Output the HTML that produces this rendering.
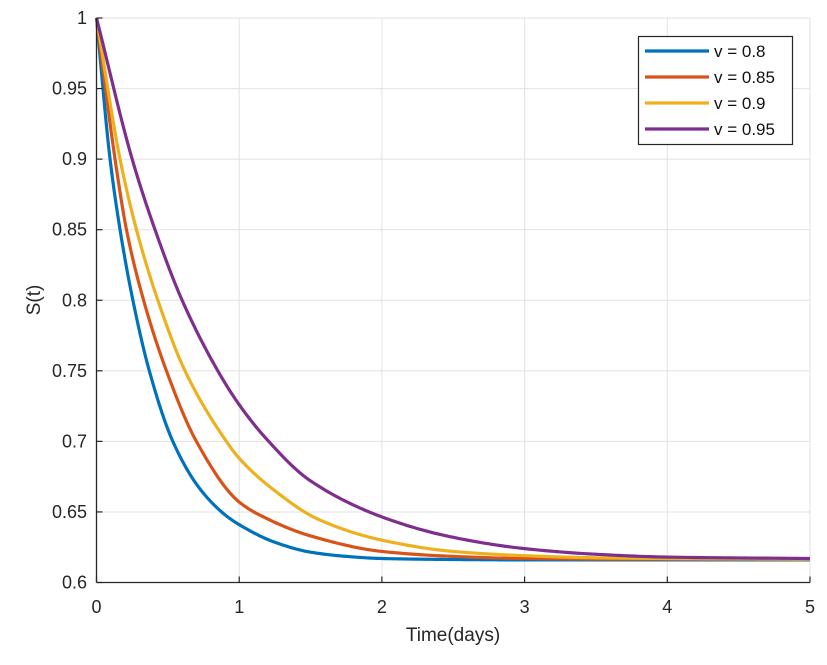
<!DOCTYPE html>
<html><head><meta charset="utf-8"><style>
body{margin:0;background:#fff}
svg{display:block;font-family:"Liberation Sans",Arial,sans-serif}
</style></head><body>
<svg id="chart" width="827" height="665" viewBox="0 0 827 665"></svg>
<script>
const xTicks=[0,1,2,3,4,5];
const yTicks=[0.6,0.65,0.7,0.75,0.8,0.85,0.9,0.95,1];
const yTickLabels=["0.6","0.65","0.7","0.75","0.8","0.85","0.9","0.95","1"];
const seriesNames=["v = 0.8","v = 0.85","v = 0.9","v = 0.95"];
const tBlue=[0,0.095,0.165,0.255,0.37,0.535,0.72,0.9,1,1.25,1.5,1.75,2,2.5,3,4,5];
const vBlue=[1,0.9,0.85,0.8,0.75,0.7,0.667,0.648,0.641,0.6285,0.6215,0.6185,0.617,0.6163,0.616,0.616,0.616];
const tRed=[0,0.13,0.21,0.33,0.49,0.7,1,1.2,1.5,2,2.5,3,4,5];
const vRed=[1,0.9,0.85,0.8,0.75,0.7,0.657,0.645,0.633,0.622,0.6185,0.617,0.6165,0.6165];
const tYellow=[0,0.165,0.28,0.43,0.62,0.91,1,1.25,1.55,2,2.5,3,3.5,4,5];
const vYellow=[1,0.9,0.85,0.8,0.75,0.7,0.688,0.665,0.645,0.63,0.622,0.619,0.6175,0.617,0.6165];
const tPurple=[0,0.25,0.41,0.6,0.85,1,1.18,1.5,2.04,2.5,3,3.5,4,5];
const vPurple=[1,0.9,0.85,0.8,0.75,0.726,0.703,0.672,0.645,0.632,0.624,0.62,0.618,0.617];
const colors=["#0072BD","#D95319","#EDB120","#7E2F8E"];

const svg=document.getElementById('chart');
const NS="http://www.w3.org/2000/svg";
const L=96.5,R=810,T=18,B=582.5;
const xs=t=>L+(t-0)/(5-0)*(R-L);
const ys=v=>B-(v-0.6)/(1-0.6)*(B-T);
function mk(tag,attrs,parent){const e=document.createElementNS(NS,tag);for(const k in attrs)e.setAttribute(k,attrs[k]);(parent||svg).appendChild(e);return e;}

const grid=mk('g',{});


xTicks.forEach(t=>{const l=mk('line',{x1:xs(t),x2:xs(t),y1:T,y2:B,stroke:'#e2e2e2','stroke-width':1},grid);

});
yTicks.forEach(v=>{const l=mk('line',{x1:L,x2:R,y1:ys(v),y2:ys(v),stroke:'#e2e2e2','stroke-width':1},grid);

});

function pathFor(ts,vs){
  const n=ts.length,d=[],m=new Array(n);
  for(let i=0;i<n-1;i++)d.push((vs[i+1]-vs[i])/(ts[i+1]-ts[i]));
  m[0]=d[0];m[n-1]=d[n-2];
  for(let i=1;i<n-1;i++){
    if(d[i-1]*d[i]<=0)m[i]=0;
    else{const h0=ts[i]-ts[i-1],h1=ts[i+1]-ts[i];const w1=2*h1+h0,w2=h1+2*h0;m[i]=(w1+w2)/(w1/d[i-1]+w2/d[i]);}
  }
  let s=`M${xs(ts[0])},${ys(vs[0])}`;
  for(let i=0;i<n-1;i++){
    const h=ts[i+1]-ts[i];
    for(let k=1;k<=20;k++){
      const u=k/20,h00=2*u*u*u-3*u*u+1,h10=u*u*u-2*u*u+u,h01=-2*u*u*u+3*u*u,h11=u*u*u-u*u;
      const v=h00*vs[i]+h10*h*m[i]+h01*vs[i+1]+h11*h*m[i+1];
      s+=` L${xs(ts[i]+u*h).toFixed(2)},${ys(v).toFixed(2)}`;
    }
  }
  return s;
}
const allT=[tBlue,tRed,tYellow,tPurple],allV=[vBlue,vRed,vYellow,vPurple];
const seriesIds=["series-v-0-8","series-v-0-85","series-v-0-9","series-v-0-95"];
allT.forEach((ts,i)=>{
  const p=mk('path',{d:pathFor(ts,allV[i]),fill:'none',stroke:colors[i],'stroke-width':3.2,'stroke-linejoin':'round'});
  
  
});

const ax=mk('g',{});


mk('line',{x1:L,x2:R,y1:B,y2:B,stroke:'#262626','stroke-width':1.3},ax);
mk('line',{x1:L,x2:L,y1:T,y2:B,stroke:'#262626','stroke-width':1.3},ax);
xTicks.forEach(t=>{
  mk('line',{x1:xs(t),x2:xs(t),y1:B,y2:B-6,stroke:'#262626','stroke-width':1.2},ax);
  const tx=mk('text',{x:xs(t),y:613,'text-anchor':'middle','font-size':18,fill:'#262626'},ax);
  tx.textContent=String(t);
  
  
});
yTicks.forEach((v,i)=>{
  mk('line',{x1:L,x2:L+6,y1:ys(v),y2:ys(v),stroke:'#262626','stroke-width':1.2},ax);
  const tx=mk('text',{x:87,y:ys(v)+6,'text-anchor':'end','font-size':18,fill:'#262626'},ax);
  tx.textContent=yTickLabels[i];
  
  
});
const xt=mk('text',{x:453,y:641,'text-anchor':'middle','font-size':19,fill:'#262626'});
xt.textContent='Time(days)';


const yt=mk('text',{x:0,y:0,'text-anchor':'middle','font-size':19,fill:'#262626',transform:'translate(40,300) rotate(-90)'});
yt.textContent='S(t)';



const lg=mk('g',{});


mk('rect',{x:638.5,y:36.5,width:154,height:108,fill:'#fff',stroke:'#262626','stroke-width':1.2},lg);
seriesNames.forEach((n,i)=>{
  const y=51+i*26;
  const e=mk('g',{},lg);
  
  
  mk('line',{x1:645,x2:709,y1:y,y2:y,stroke:colors[i],'stroke-width':3.2},e);
  const tx=mk('text',{x:714,y:y+6,'font-size':17,fill:'#111'},e);
  tx.textContent=n;
});
</script>
</body></html>
